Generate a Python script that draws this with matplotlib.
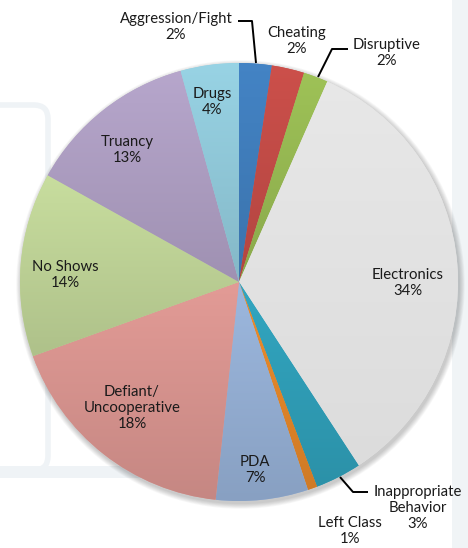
import numpy as np
import matplotlib
matplotlib.use("Agg")
import matplotlib.pyplot as plt
from matplotlib.colors import to_rgb
from matplotlib.patches import Circle, Rectangle, FancyBboxPatch

# ---- data ----
categories = ["Aggression/Fight", "Cheating", "Disruptive", "Electronics",
              "Inappropriate\nBehavior", "Left Class", "PDA",
              "Defiant/\nUncooperative", "No Shows", "Truancy", "Drugs"]
values = [2.4, 2.4, 1.8, 34.2, 3.4, 0.7, 6.8, 17.8, 13.6, 12.6, 4.3]
colors = ["#4281C1", "#C84E49", "#9BBE55", "#E3E3E3", "#31A3BD", "#E98A2B",
          "#99B4DA", "#DE9893", "#C4D99B", "#B3A3C8", "#95CFE0"]

W, H = 468, 548
fig = plt.figure(figsize=(W / 100, H / 100), dpi=100)
ax = fig.add_axes([0, 0, 1, 1])
ax.set_axis_off()

def Y(y):
    return H - y

cx, cy, R = 239, Y(282), 219

# faint watermark background
wm = "#EFF3F6"
ax.add_patch(FancyBboxPatch((-30, Y(470)), 78, 365, boxstyle="round,pad=0,rounding_size=14",
                            fill=False, ec=wm, lw=4, zorder=0))
ax.add_patch(Rectangle((0, Y(478)), 150, 12, fc=wm, ec="none", zorder=0))
ax.add_patch(Rectangle((452, 0), 16, H, fc="#F0F4F6", ec="none", zorder=0))

# soft shadow
for i in range(7):
    ax.add_patch(Circle((cx + 1.5, cy - 2.5), R + 0.5 + i * 0.8, fc="k", ec="none",
                        alpha=0.03, zorder=1))

wedges, _ = ax.pie(values, colors=colors, startangle=90, counterclock=False,
                   center=(cx, cy), radius=R, wedgeprops=dict(linewidth=0))
for w in wedges:
    w.set_zorder(2)

# vertical gradient per wedge
for w, c in zip(wedges, colors):
    bb = w.get_path().get_extents()
    rgb = np.array(to_rgb(c))
    amt = 0.05 if c == "#E3E3E3" else 0.13
    t = np.linspace(0, 1, 128)[:, None]
    grad = np.clip(rgb * (1.02 - amt * t), 0, 1)
    img = ax.imshow(grad[:, None, :], extent=(bb.x0, bb.x1, bb.y0, bb.y1),
                    origin="upper", aspect="auto", zorder=3, interpolation="bilinear")
    img.set_clip_path(w)

ax.set_xlim(0, W)
ax.set_ylim(0, H)

pcts = [f"{round(v):d}%" for v in values]
label_pos = [(176, 27), (297, 41), (387, 53), (408, 283), (418, 508), (350, 531),
             (255, 470), (132, 408), (65, 275), (127, 150), (212, 102)]
for cat, p, (x, y) in zip(categories, pcts, label_pos):
    ax.text(x, Y(y), f"{cat}\n{p}", ha="center", va="center", fontsize=10.7,
            family="Lato", color="#1a1a1a", linespacing=1.22, zorder=5)

# leader lines
leaders = [[(256, 63), (252, 21), (238, 21)],
           [(318, 77), (332, 49), (348, 49)],
           [(340, 477), (353, 492), (368, 492)]]
for pts in leaders:
    xs = [p[0] for p in pts]
    ys = [Y(p[1]) for p in pts]
    ax.plot(xs, ys, color="k", lw=1.4, zorder=5, solid_capstyle="butt")

fig.savefig("out.png", dpi=100, facecolor="white")
